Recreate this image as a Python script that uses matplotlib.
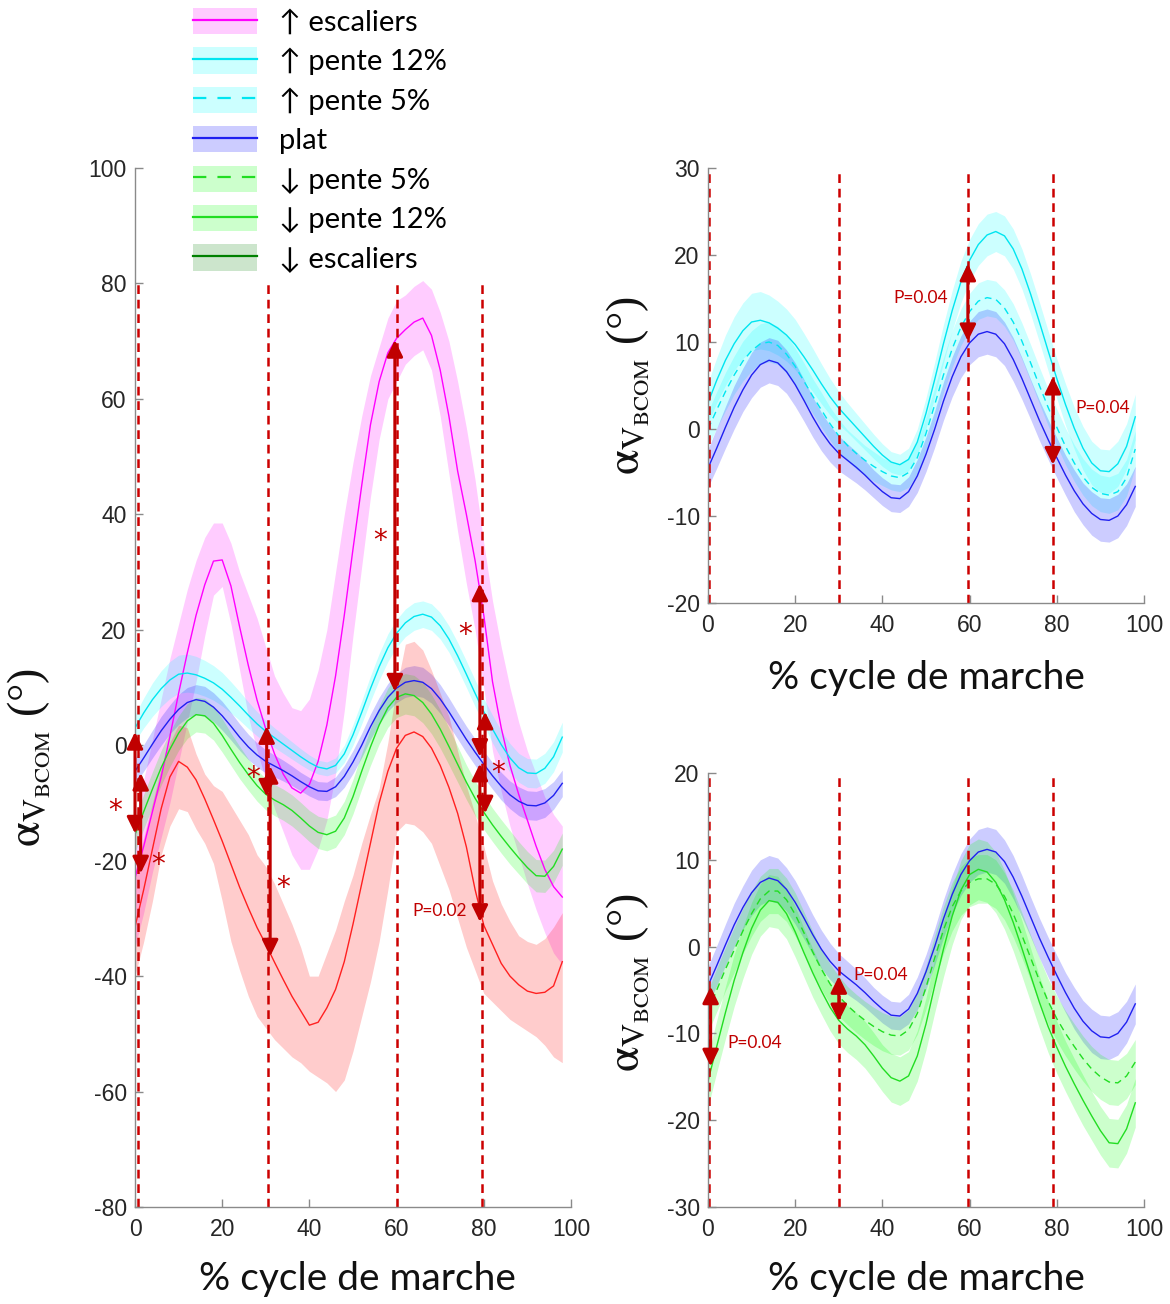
import matplotlib
matplotlib.use('Agg')
import matplotlib.pyplot as plt
from matplotlib.patches import Patch
from matplotlib.lines import Line2D
from matplotlib.legend_handler import HandlerTuple

plt.rcParams['font.family'] = ['Liberation Sans', 'DejaVu Sans']
plt.rcParams['mathtext.fontset'] = 'stix'
plt.rcParams['axes.unicode_minus'] = False

# ---------------- data (% gait cycle) ----------------
pct = [0, 2, 4, 6, 8, 10, 12, 14, 16, 18, 20, 22, 24, 26, 28, 30, 32, 34, 36, 38,
       40, 42, 44, 46, 48, 50, 52, 54, 56, 58, 60, 62, 64, 66, 68, 70, 72, 74, 76, 78,
       80, 82, 84, 86, 88, 90, 92, 94, 96, 98]

plat_mean = [-4.5, -2.2, 0.2, 2.5, 4.5, 6.2, 7.4, 7.9, 7.6, 6.6, 5.1, 3.3, 1.4, -0.3, -1.7,
             -2.8, -3.6, -4.4, -5.3, -6.3, -7.2, -7.9, -8.0, -7.2, -5.4, -2.9, 0.0, 3.2, 6.0,
             8.3, 9.9, 10.9, 11.2, 10.9, 9.8, 8.0, 5.8, 3.4, 1.0, -1.2, -3.3, -5.3, -7.1,
             -8.6, -9.7, -10.4, -10.5, -10.0, -8.7, -6.6]
plat_sd = [2.2, 2.3, 2.4, 2.5, 2.5, 2.6, 2.6, 2.6, 2.6, 2.5, 2.5, 2.4, 2.3, 2.2, 2.1, 2.0, 1.9,
           1.8, 1.7, 1.6, 1.6, 1.6, 1.6, 1.7, 1.9, 2.0, 2.1, 2.2, 2.3, 2.4, 2.5, 2.6, 2.6, 2.6,
           2.5, 2.5, 2.4, 2.3, 2.3, 2.3, 2.3, 2.3, 2.4, 2.4, 2.5, 2.5, 2.5, 2.5, 2.4, 2.3]

up12_mean = [3.0, 5.6, 7.9, 9.8, 11.3, 12.3, 12.5, 12.2, 11.6, 10.8, 9.7, 8.3, 6.8, 5.2, 3.7,
             2.4, 1.3, 0.2, -0.9, -2.0, -3.0, -3.8, -4.1, -3.5, -1.5, 1.8, 5.7, 9.8, 13.6,
             16.9, 19.4, 21.2, 22.3, 22.7, 22.2, 20.7, 18.4, 15.5, 12.3, 9.0, 5.8, 2.8, 0.1,
             -2.2, -3.9, -4.8, -4.9, -4.0, -2.0, 1.4]
up12_sd = [2.3, 2.6, 2.9, 3.1, 3.2, 3.3, 3.3, 3.2, 3.1, 3.0, 2.9, 2.7, 2.5, 2.3, 2.1, 1.9, 1.7,
           1.6, 1.5, 1.4, 1.3, 1.2, 1.2, 1.3, 1.5, 1.8, 2.0, 2.2, 2.3, 2.4, 2.4, 2.4, 2.4, 2.3,
           2.3, 2.3, 2.3, 2.3, 2.3, 2.3, 2.3, 2.4, 2.4, 2.5, 2.5, 2.5, 2.5, 2.6, 2.6, 2.6]

up5_mean = [0.0, 2.2, 4.3, 6.2, 7.8, 9.0, 9.8, 10.0, 9.6, 8.6, 7.2, 5.5, 3.8, 2.2, 0.6, -0.8,
            -1.9, -2.8, -3.6, -4.3, -4.9, -5.4, -5.6, -5.0, -3.3, -0.5, 2.8, 6.2, 9.2, 11.7,
            13.5, 14.7, 15.1, 14.9, 13.9, 12.3, 10.1, 7.6, 5.0, 2.5, 0.2, -2.0, -3.9, -5.5,
            -6.7, -7.4, -7.6, -7.2, -5.6, -2.3]
up5_sd = [2.0, 2.1, 2.2, 2.2, 2.3, 2.3, 2.3, 2.3, 2.2, 2.2, 2.1, 2.1, 2.0, 2.0, 1.9, 1.9, 1.8,
          1.8, 1.7, 1.7, 1.6, 1.6, 1.6, 1.7, 1.8, 1.9, 2.0, 2.0, 2.1, 2.1, 2.1, 2.1, 2.1, 2.1,
          2.1, 2.1, 2.1, 2.1, 2.1, 2.1, 2.1, 2.1, 2.1, 2.1, 2.1, 2.1, 2.1, 2.1, 2.1, 2.1]

down5_mean = [-7.5, -5.0, -2.6, -0.4, 1.8, 3.8, 5.5, 6.4, 6.4, 5.4, 3.7, 1.6, -0.6, -2.6, -4.3,
              -5.7, -6.8, -7.7, -8.5, -9.2, -9.8, -10.2, -10.3, -9.6, -7.7, -4.7, -1.3, 1.9,
              4.6, 6.4, 7.4, 7.8, 7.8, 7.2, 5.8, 3.8, 1.3, -1.3, -3.9, -6.3, -8.3, -10.0,
              -11.5, -12.9, -14.1, -15.0, -15.6, -15.7, -14.9, -13.3]
down5_sd = [2.4, 2.5, 2.5, 2.6, 2.6, 2.6, 2.6, 2.6, 2.6, 2.5, 2.5, 2.4, 2.4, 2.3, 2.3, 2.3, 2.2,
            2.2, 2.2, 2.2, 2.2, 2.2, 2.2, 2.3, 2.4, 2.5, 2.6, 2.7, 2.8, 2.8, 2.8, 2.8, 2.8,
            2.8, 2.7, 2.7, 2.6, 2.6, 2.6, 2.6, 2.6, 2.6, 2.6, 2.6, 2.6, 2.6, 2.6, 2.6, 2.6, 2.6]

down12_mean = [-15.5, -11.5, -7.6, -3.9, -0.7, 2.1, 4.2, 5.3, 5.1, 3.8, 1.7, -0.7, -3.0, -5.1,
               -7.0, -8.5, -9.5, -10.3, -11.3, -12.6, -14.0, -15.1, -15.5, -14.9, -12.6, -8.9,
               -4.5, -0.3, 3.5, 6.5, 8.3, 8.9, 8.6, 7.4, 5.4, 2.8, -0.2, -3.3, -6.4, -9.2,
               -11.6, -13.8, -15.8, -17.7, -19.5, -21.2, -22.6, -22.7, -21.0, -18.0]
down12_sd = [3.0, 3.0, 3.0, 3.0, 3.0, 3.0, 3.0, 3.0, 3.0, 2.9, 2.9, 2.8, 2.8, 2.7, 2.7, 2.7,
             2.7, 2.7, 2.7, 2.7, 2.7, 2.8, 2.8, 2.8, 2.9, 3.0, 3.1, 3.2, 3.3, 3.4, 3.5, 3.5,
             3.5, 3.5, 3.4, 3.3, 3.2, 3.1, 3.0, 3.0, 3.0, 2.9, 2.9, 2.9, 2.8, 2.8, 2.8, 2.8,
             2.8, 2.8]

# stairs: band edges read directly (bands are asymmetric)
upst_mean = [-23.0, -17.5, -11.5, -5.5, 1.5, 9.0, 16.0, 22.5, 27.8, 31.9, 32.1, 27.6, 20.5,
             13.8, 7.8, 2.8, -1.5, -5.0, -7.4, -8.3, -6.8, -2.8, 3.5, 12.0, 22.5, 34.0, 45.0,
             55.5, 63.0, 68.0, 70.5, 72.0, 73.3, 74.0, 71.0, 65.0, 57.0, 47.5, 40.0, 32.0,
             22.5, 11.0, 3.0, -3.5, -8.5, -13.0, -17.5, -21.5, -24.5, -26.3]
upst_hi = [-13.0, -6.0, 1.0, 8.0, 15.0, 21.0, 27.0, 32.0, 36.0, 38.5, 38.5, 35.0, 30.0, 26.0,
           22.0, 17.0, 12.0, 9.0, 6.5, 6.0, 8.0, 13.0, 20.0, 30.0, 40.0, 49.0, 57.0, 64.0,
           69.0, 74.0, 77.0, 78.0, 79.5, 80.5, 79.0, 75.0, 70.0, 63.0, 55.0, 46.0, 35.0, 25.0,
           17.0, 10.0, 4.0, -1.0, -5.0, -9.0, -12.0, -14.0]
upst_lo = [-35.0, -29.0, -22.0, -16.0, -10.0, -3.0, 4.0, 11.0, 19.0, 26.0, 27.5, 21.0, 13.0,
           5.0, -1.0, -6.0, -11.0, -15.0, -19.0, -21.5, -21.5, -18.0, -13.0, -5.0, 6.0, 19.0,
           31.0, 43.0, 53.0, 60.0, 63.0, 66.0, 67.5, 68.5, 65.0, 57.0, 47.0, 37.0, 28.0, 20.0,
           10.0, -1.0, -8.0, -14.0, -19.0, -24.0, -28.5, -32.5, -36.0, -38.0]

downst_mean = [-31.5, -25.0, -18.0, -11.0, -5.5, -2.8, -3.8, -6.0, -9.3, -12.9, -16.6, -20.6,
               -24.6, -28.2, -31.6, -34.5, -37.6, -40.6, -43.5, -46.0, -48.5, -48.0, -45.5,
               -42.3, -37.5, -31.0, -24.0, -17.0, -10.0, -4.5, -0.5, 1.7, 2.3, 1.5, -0.5, -3.5,
               -7.3, -11.8, -17.6, -25.0, -31.2, -34.5, -37.8, -40.0, -41.5, -42.6, -43.0,
               -42.8, -41.7, -37.5]
downst_hi = [-22.0, -16.0, -10.0, -4.0, 0.5, 3.5, 3.0, -1.5, -5.0, -7.0, -8.0, -10.5, -13.0,
             -15.5, -19.0, -21.0, -24.0, -27.5, -31.0, -35.0, -40.0, -40.0, -36.0, -32.0, -27.0,
             -22.5, -17.0, -12.0, -7.5, 0.5, 10.0, 17.5, 18.0, 16.5, 13.0, 9.0, 5.0, -1.0, -7.0,
             -12.0, -17.5, -23.5, -27.5, -30.5, -33.0, -34.0, -34.5, -33.5, -31.5, -29.0]
downst_lo = [-40.0, -34.0, -27.0, -19.0, -14.0, -11.0, -11.5, -14.5, -17.0, -20.5, -27.0,
             -34.0, -39.0, -43.5, -47.0, -49.0, -51.0, -52.5, -54.0, -55.0, -56.5, -57.5,
             -58.5, -60.0, -58.0, -53.0, -47.0, -41.0, -34.0, -25.0, -15.0, -13.5, -13.8, -15.0,
             -17.0, -21.0, -25.0, -30.0, -35.0, -39.0, -43.0, -44.5, -46.0, -47.5, -48.5,
             -49.5, -50.5, -52.0, -54.0, -55.0]

legend_labels = ['↑ escaliers', '↑ pente 12%', '↑ pente 5%', 'plat',
                 '↓ pente 5%', '↓ pente 12%', '↓ escaliers']

# gait events (vertical dashed lines)
events_left = [0.8, 30.4, 60.0, 79.5]
events_right = [0.3, 30.0, 59.7, 79.2]

# significance arrows: x, top, bottom
left_arrow_x = [0.0, 1.3, 30.2, 31.0, 59.6, 79.1, 80.3, 79.1]
left_arrow_top = [2.3, -4.8, 3.3, -3.6, 70.2, 28.0, 5.8, -3.2]
left_arrow_bot = [-15.3, -22.2, -8.9, -36.6, 9.3, -2.0, -11.8, -30.6]
left_star_x = [-4.6, 5.3, 27.1, 34.0, 56.2, 75.7, 83.3]
left_star_y = [-10.1, -19.3, -4.3, -23.4, 36.7, 20.5, -3.5]

tr_arrow_x = [59.6, 79.1]
tr_arrow_top = [19.0, 6.0]
tr_arrow_bot = [10.1, -4.1]
br_arrow_x = [0.6, 30.0]
br_arrow_top = [-4.6, -3.4]
br_arrow_bot = [-13.8, -8.6]

# ---------------- styles ----------------
C_MAG, C_CYAN, C_BLUE, C_GREEN, C_RED, C_DKGREEN = '#FF00FF', '#00E5F0', '#2020F0', '#22DD22', '#FF2020', '#008000'
B_MAG, B_CYAN, B_BLUE, B_GREEN, B_RED = '#FF00FF', '#00FFFF', '#0000FF', '#00FF00', '#FF0000'
DARKRED = '#C00000'
DASH = (0, (5, 3.5))
AXCOL = '#8a8a8a'
LABEL_FONT = ['Lato', 'DejaVu Sans']
YLABEL = r'$\mathrm{α}_{\mathrm{V}_{\mathrm{BCOM}}}$ (°)'

W, H = 1170, 1304
fig = plt.figure(figsize=(W / 100, H / 100), dpi=100)


def px_axes(x0, y0, x1, y1):
    return fig.add_axes([x0 / W, 1 - y1 / H, (x1 - x0) / W, (y1 - y0) / H])


axL = px_axes(135, 168, 571, 1207)
axTR = px_axes(708, 168, 1144, 603)
axBR = px_axes(708, 773, 1144, 1207)


def band_sd(ax, mean, sd, col):
    lo = [m - s for m, s in zip(mean, sd)]
    hi = [m + s for m, s in zip(mean, sd)]
    ax.fill_between(pct, lo, hi, color=col, alpha=0.2, lw=0)


def band_lohi(ax, lo, hi, col):
    ax.fill_between(pct, lo, hi, color=col, alpha=0.2, lw=0)


def line(ax, mean, col, ls='-'):
    ax.plot(pct, mean, color=col, lw=1.0, ls=ls)


def style(ax, ylim, yticks):
    ax.set_xlim(0, 100)
    ax.set_ylim(*ylim)
    ax.set_xticks([0, 20, 40, 60, 80, 100])
    ax.set_yticks(yticks)
    for s in ['top', 'right']:
        ax.spines[s].set_visible(False)
    for s in ['left', 'bottom']:
        ax.spines[s].set_color(AXCOL)
        ax.spines[s].set_linewidth(1.0)
    ax.tick_params(direction='in', length=6, width=1, color=AXCOL,
                   labelsize=16.5, labelcolor='#262626')
    ax.tick_params(axis='x', pad=8)
    ax.tick_params(axis='y', pad=6)
    ax.set_xlabel('% cycle de marche', fontsize=28, family=LABEL_FONT, color='#111111')
    ax.set_ylabel(YLABEL, fontsize=33, family=['Liberation Serif', 'DejaVu Serif'],
                  color='#111111')


def arrows(ax, xs, tops, bots):
    for x, t, b in zip(xs, tops, bots):
        ax.annotate('', xy=(x, b), xytext=(x, t),
                    arrowprops=dict(arrowstyle='<|-|>,head_length=0.45,head_width=0.22',
                                    color=DARKRED, lw=2.2, mutation_scale=22,
                                    shrinkA=0, shrinkB=0))


def stars(ax, xs, ys):
    for x, y in zip(xs, ys):
        ax.annotate('*', xy=(x, y), xytext=(0, -11.5), textcoords='offset points',
                    ha='center', va='baseline', fontsize=20, color=DARKRED,
                    family='DejaVu Sans', annotation_clip=False)


def ptext(ax, x, y, ha):
    ax.text(x, y, 'P=0.04' if ax is not axL else 'P=0.02', ha=ha, va='center',
            fontsize=12.5, color=DARKRED, family=LABEL_FONT)


# ---------------- left panel ----------------
style(axL, (-80, 100), [-80, -60, -40, -20, 0, 20, 40, 60, 80, 100])
band_lohi(axL, upst_lo, upst_hi, B_MAG)
band_sd(axL, up12_mean, up12_sd, B_CYAN)
band_sd(axL, plat_mean, plat_sd, B_BLUE)
band_sd(axL, down12_mean, down12_sd, B_GREEN)
band_lohi(axL, downst_lo, downst_hi, B_RED)
line(axL, upst_mean, C_MAG)
line(axL, up12_mean, C_CYAN)
line(axL, plat_mean, C_BLUE)
line(axL, down12_mean, C_GREEN)
line(axL, downst_mean, C_RED)
axL.vlines(events_left, -80, 80, colors='#CC0000', linestyles=(0, (3.5, 2.3)), lw=1.8)
arrows(axL, left_arrow_x, left_arrow_top, left_arrow_bot)
stars(axL, left_star_x, left_star_y)
ptext(axL, 76.1, -28.8, 'right')

# ---------------- top right ----------------
style(axTR, (-20, 30), [-20, -10, 0, 10, 20, 30])
band_sd(axTR, up12_mean, up12_sd, B_CYAN)
band_sd(axTR, up5_mean, up5_sd, B_CYAN)
band_sd(axTR, plat_mean, plat_sd, B_BLUE)
line(axTR, up12_mean, C_CYAN)
line(axTR, up5_mean, C_CYAN, DASH)
line(axTR, plat_mean, C_BLUE)
axTR.vlines(events_right, -20, 30, colors='#CC0000', linestyles=(0, (3.5, 2.3)), lw=1.8)
arrows(axTR, tr_arrow_x, tr_arrow_top, tr_arrow_bot)
ptext(axTR, 55.0, 15.1, 'right')
ptext(axTR, 84.2, 2.4, 'left')

# ---------------- bottom right ----------------
style(axBR, (-30, 20), [-30, -20, -10, 0, 10, 20])
band_sd(axBR, plat_mean, plat_sd, B_BLUE)
band_sd(axBR, down5_mean, down5_sd, B_GREEN)
band_sd(axBR, down12_mean, down12_sd, B_GREEN)
line(axBR, plat_mean, C_BLUE)
line(axBR, down5_mean, C_GREEN, DASH)
line(axBR, down12_mean, C_GREEN)
axBR.vlines(events_right, -30, 20, colors='#CC0000', linestyles=(0, (3.5, 2.3)), lw=1.8)
arrows(axBR, br_arrow_x, br_arrow_top, br_arrow_bot)
ptext(axBR, 4.5, -11.1, 'left')
ptext(axBR, 33.3, -3.3, 'left')

# label positions
axL.xaxis.set_label_coords(0.51, -0.052)
axTR.xaxis.set_label_coords(0.5, -0.13)
axBR.xaxis.set_label_coords(0.5, -0.125)
axL.yaxis.set_label_coords(-0.19, 0.433)
axTR.yaxis.set_label_coords(-0.13, 0.5)
axBR.yaxis.set_label_coords(-0.13, 0.518)

# ---------------- legend ----------------
def handle(col, bcol, ls='-'):
    return (Patch(facecolor=bcol, alpha=0.2, edgecolor='none'),
            Line2D([], [], color=col, lw=1.6, ls=ls))


handles = [handle(C_MAG, B_MAG), handle(C_CYAN, B_CYAN), handle(C_CYAN, B_CYAN, (0, (6, 5))),
           handle(C_BLUE, B_BLUE), handle(C_GREEN, B_GREEN, (0, (6, 5))),
           handle(C_GREEN, B_GREEN), handle(C_DKGREEN, C_DKGREEN)]
fig.legend(handles, legend_labels, loc='upper left', bbox_to_anchor=(193 / W, 1 - 8 / H),
           frameon=False, borderpad=0, borderaxespad=0, handlelength=2.19,
           handleheight=1.0, labelspacing=0.39, handletextpad=0.75,
           prop={'family': LABEL_FONT, 'size': 21},
           handler_map={tuple: HandlerTuple(ndivide=1)})

fig.savefig('out.png', dpi=100)
